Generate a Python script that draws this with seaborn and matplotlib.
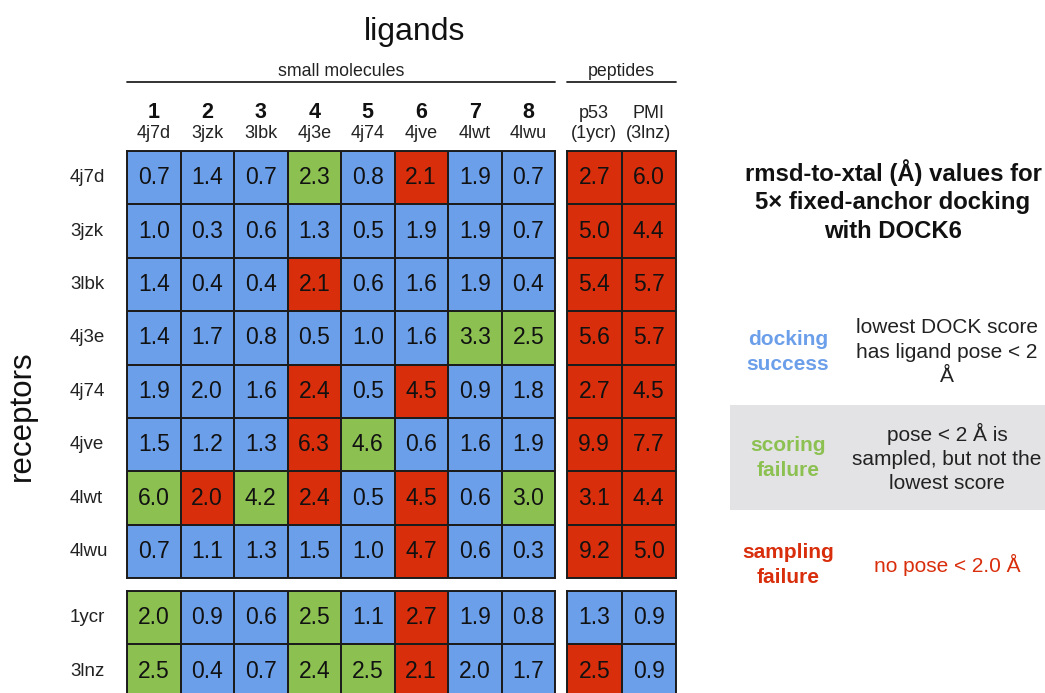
import matplotlib
matplotlib.use("Agg")
import matplotlib.pyplot as plt
import matplotlib.transforms as mtransforms
from matplotlib.colors import ListedColormap
from matplotlib.lines import Line2D
from matplotlib.patches import Rectangle
import seaborn as sns
import pandas as pd
import numpy as np

# data
receptors = ["4j7d", "3jzk", "3lbk", "4j3e", "4j74", "4jve", "4lwt", "4lwu", "1ycr", "3lnz"]
small_ids = ["1", "2", "3", "4", "5", "6", "7", "8"]
small_pdb = ["4j7d", "3jzk", "3lbk", "4j3e", "4j74", "4jve", "4lwt", "4lwu"]
peptide_names = ["p53", "PMI"]
peptide_pdb = ["(1ycr)", "(3lnz)"]

rmsd = [
    [0.7, 1.4, 0.7, 2.3, 0.8, 2.1, 1.9, 0.7, 2.7, 6.0],
    [1.0, 0.3, 0.6, 1.3, 0.5, 1.9, 1.9, 0.7, 5.0, 4.4],
    [1.4, 0.4, 0.4, 2.1, 0.6, 1.6, 1.9, 0.4, 5.4, 5.7],
    [1.4, 1.7, 0.8, 0.5, 1.0, 1.6, 3.3, 2.5, 5.6, 5.7],
    [1.9, 2.0, 1.6, 2.4, 0.5, 4.5, 0.9, 1.8, 2.7, 4.5],
    [1.5, 1.2, 1.3, 6.3, 4.6, 0.6, 1.6, 1.9, 9.9, 7.7],
    [6.0, 2.0, 4.2, 2.4, 0.5, 4.5, 0.6, 3.0, 3.1, 4.4],
    [0.7, 1.1, 1.3, 1.5, 1.0, 4.7, 0.6, 0.3, 9.2, 5.0],
    [2.0, 0.9, 0.6, 2.5, 1.1, 2.7, 1.9, 0.8, 1.3, 0.9],
    [2.5, 0.4, 0.7, 2.4, 2.5, 2.1, 2.0, 1.7, 2.5, 0.9],
]
# S = docking success, F = scoring failure, X = sampling failure
outcome = [
    "SSSFSXSSXX",
    "SSSSSSSSXX",
    "SSSXSSSSXX",
    "SSSSSSFFXX",
    "SSSXSXSSXX",
    "SSSXFSSSXX",
    "FXFXSXSFXX",
    "SSSSSXSSXX",
    "FSSFSXSSSS",
    "FSSFFXSSXS",
]

blue, green, red = "#6c9fea", "#8cc152", "#d92e0c"
code = {"S": 0, "F": 1, "X": 2}

ligands = small_pdb + peptide_pdb
vals = pd.DataFrame(rmsd, index=receptors, columns=ligands)
cats = pd.DataFrame([[code[c] for c in row] for row in outcome], index=receptors, columns=ligands)

sns.set_theme(style="white")
plt.rcParams["font.family"] = ["Liberation Sans", "DejaVu Sans"]

W, H = 1045, 693
fig = plt.figure(figsize=(W / 100, H / 100), dpi=100)
fig.patch.set_facecolor("white")


def box(x0, y0, x1, y1):
    return [x0 / W, 1 - y1 / H, (x1 - x0) / W, (y1 - y0) / H]


cmap = ListedColormap([blue, green, red])
row_h = 53.4
top_y0, top_y1 = 151, 151 + 8 * row_h
bot_y0 = 591
blocks = [
    (slice(0, 8), slice(0, 8), box(127, top_y0, 555, top_y1)),
    (slice(0, 8), slice(8, 10), box(567, top_y0, 676, top_y1)),
    (slice(8, 10), slice(0, 8), box(127, bot_y0, 555, bot_y0 + 2 * row_h)),
    (slice(8, 10), slice(8, 10), box(567, bot_y0, 676, bot_y0 + 2 * row_h)),
]

axes = {}
for rs, cs, pos in blocks:
    ax = fig.add_axes(pos)
    sns.heatmap(cats.iloc[rs, cs], ax=ax, cmap=cmap, vmin=-0.5, vmax=2.5, cbar=False,
                annot=vals.iloc[rs, cs], fmt=".1f",
                annot_kws={"color": "#111111", "fontsize": 16.5},
                linewidths=1.2, linecolor="#1c1c1c")
    for s in ax.spines.values():
        s.set_visible(True)
        s.set_color("#1c1c1c")
        s.set_linewidth(1.4)
    ax.set_xticks([])
    ax.set_xlabel("")
    ax.set_ylabel("")
    if cs.start == 0:
        ax.set_yticks(np.arange(rs.stop - rs.start) + 0.5)
        ax.set_yticklabels(receptors[rs], rotation=0, fontsize=13.5, ha="left", color="#222")
        ax.tick_params(axis="y", length=0, pad=41)
    else:
        ax.set_yticks([])
    axes[(rs.start, cs.start)] = ax

# column headers
ax_sm = axes[(0, 0)]
ax_pep = axes[(0, 8)]
tr_sm = mtransforms.blended_transform_factory(ax_sm.transData, fig.transFigure)
tr_pep = mtransforms.blended_transform_factory(ax_pep.transData, fig.transFigure)
for i, (n, p) in enumerate(zip(small_ids, small_pdb)):
    ax_sm.text(i + 0.5, 1 - 113 / H, n, transform=tr_sm, ha="center", va="center",
               fontsize=15.5, fontweight="bold", color="#111")
    ax_sm.text(i + 0.5, 1 - 133 / H, p, transform=tr_sm, ha="center", va="center",
               fontsize=13, color="#222")
for i, (n, p) in enumerate(zip(peptide_names, peptide_pdb)):
    ax_pep.text(i + 0.5, 1 - 113 / H, n, transform=tr_pep, ha="center", va="center",
                fontsize=13, color="#222")
    ax_pep.text(i + 0.5, 1 - 133 / H, p, transform=tr_pep, ha="center", va="center",
                fontsize=13, color="#222")

# group labels and rules
for ax, label in [(ax_sm, "small molecules"), (ax_pep, "peptides")]:
    p = ax.get_position()
    fig.add_artist(Line2D([p.x0, p.x1], [1 - 82 / H] * 2, color="#222", lw=1.3,
                          transform=fig.transFigure))
    fig.text((p.x0 + p.x1) / 2, 1 - 71 / H, label, ha="center", va="center",
             fontsize=12.8, color="#222")

fig.text(415 / W, 1 - 32 / H, "ligands", ha="center", va="center", fontsize=23, color="#111")
fig.text(22 / W, 1 - 416 / H, "receptors", ha="center", va="center", fontsize=22.5,
         rotation=90, color="#111")

# legend panel
fig.text(893 / W, 1 - 201 / H, "rmsd-to-xtal (Å) values for\n5× fixed-anchor docking\nwith DOCK6",
         ha="center", va="center", fontsize=17.2, fontweight="bold", color="#111",
         linespacing=1.3)

fig.add_artist(Rectangle((730 / W, 1 - 510 / H), (W - 730) / W, 105 / H,
                         transform=fig.transFigure, facecolor="#e3e3e5", edgecolor="none",
                         zorder=0))

legend_rows = [
    ("docking\nsuccess", blue, "lowest DOCK score\nhas ligand pose < 2\nÅ", "#222", 352),
    ("scoring\nfailure", green, "pose < 2 Å is\nsampled, but not the\nlowest score", "#222", 458),
    ("sampling\nfailure", red, "no pose < 2.0 Å", red, 565),
]
for lab, col, desc, dcol, y in legend_rows:
    fig.text(788 / W, 1 - y / H, lab, ha="center", va="center", fontsize=15,
             fontweight="bold", color=col, linespacing=1.36)
    fig.text(947 / W, 1 - y / H, desc, ha="center", va="center", fontsize=15,
             color=dcol, linespacing=1.36)

fig.savefig("out.png", dpi=100)
